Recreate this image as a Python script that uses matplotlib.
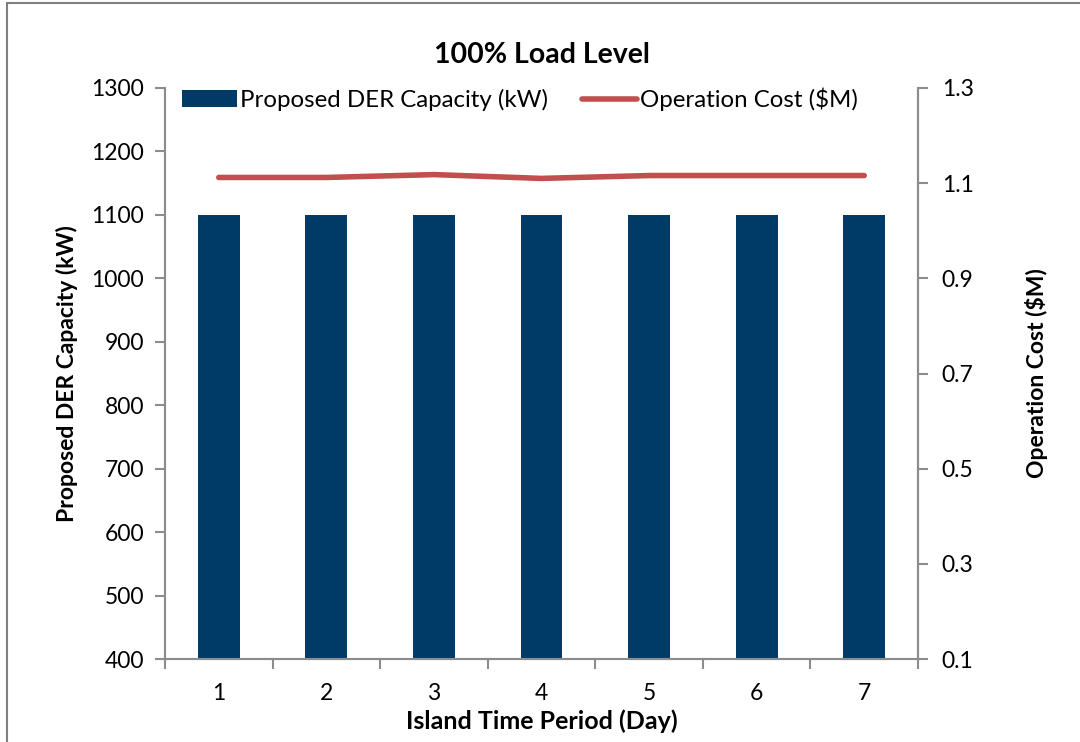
import matplotlib.pyplot as plt
import matplotlib.patches as mpatches
import numpy as np

plt.rcParams['font.family'] = ['Lato', 'DejaVu Sans']

days = ['1', '2', '3', '4', '5', '6', '7']
der_capacity = [1100, 1100, 1100, 1100, 1100, 1100, 1100]
operation_cost = [1.112, 1.112, 1.118, 1.110, 1.116, 1.116, 1.116]

bar_color = '#003A66'
line_color = '#C0504D'
axis_color = '#8C8C8C'

fig = plt.figure(figsize=(10.8, 7.42), dpi=100)
ax = fig.add_axes([165 / 1080, 1 - 659 / 742, (918 - 165) / 1080, (659 - 88) / 742])

# ramka wokół całego wykresu
fig.patches.append(mpatches.Rectangle((7 / 1080, -0.05), 1.2, 1 - 3 / 742 + 0.05,
                                      transform=fig.transFigure, fill=False,
                                      edgecolor='#7F7F7F', linewidth=1.5))

x = np.arange(len(days))
ax.bar(x, der_capacity, width=0.39, color=bar_color, label='Proposed DER Capacity (kW)',
       zorder=2)
ax.set_xlim(-0.5, len(days) - 0.5)
ax.set_ylim(400, 1300)
ax.set_yticks(np.arange(400, 1301, 100))
ax.set_xticks(x)
ax.set_xticklabels(days)
ax.set_xticks(np.arange(-0.5, len(days), 1), minor=True)
ax.tick_params(axis='x', which='major', length=0, pad=17, labelsize=16.5)
ax.tick_params(axis='x', which='minor', length=7, color=axis_color, width=1.5)
ax.tick_params(axis='y', length=7, color=axis_color, width=1.5, labelsize=16.5, pad=8)

ax2 = ax.twinx()
ax2.plot(x, operation_cost, color=line_color, linewidth=4, solid_capstyle='round',
         label='Operation Cost ($M)', zorder=3)
ax2.set_ylim(0.1, 1.3)
ax2.set_yticks([0.1, 0.3, 0.5, 0.7, 0.9, 1.1, 1.3])
ax2.set_yticklabels(['0.1', '0.3', '0.5', '0.7', '0.9', '1.1', '1.3'])
ax2.tick_params(axis='y', length=7, color=axis_color, width=1.5, labelsize=16.5, pad=10)

for a in (ax, ax2):
    a.spines['top'].set_visible(False)
    for s in ('left', 'right', 'bottom'):
        a.spines[s].set_color(axis_color)
        a.spines[s].set_linewidth(1.5)

ax.set_title('100% Load Level', fontsize=20.5, fontweight='bold', pad=18)
ax.set_xlabel('Island Time Period (Day)', fontsize=18, fontweight='bold', labelpad=4)
ax.set_ylabel('Proposed DER Capacity (kW)', fontsize=16.5, fontweight='bold', labelpad=10)
ax2.set_ylabel('Operation Cost ($M)', fontsize=16.5, fontweight='bold', rotation=90,
               labelpad=37)

h1, l1 = ax.get_legend_handles_labels()
h2, l2 = ax2.get_legend_handles_labels()
ax.legend(h1 + h2, l1 + l2, loc='upper left', bbox_to_anchor=(0.0, 1.03), ncol=2,
          frameon=False, fontsize=17.3, handlelength=2.3, handletextpad=0.13,
          columnspacing=1.4, handleheight=0.7, borderaxespad=0.3)

fig.savefig('out.png', dpi=100)
